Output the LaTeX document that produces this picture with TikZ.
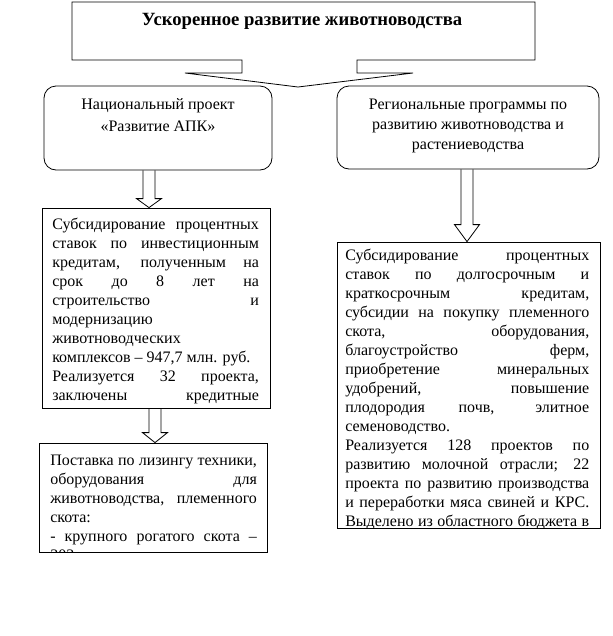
\documentclass[tikz,border=0pt]{standalone}
\usepackage{fontspec}
\setmainfont{Liberation Serif}
\usetikzlibrary{calc,fit}

\tikzset{
  box/.style={draw, inner sep=0pt, line width=0.6pt},
  rbox/.style={box, rounded corners=9pt},
  head/.style={inner sep=0pt, align=center, font=\fontsize{12}{15}\selectfont},
  txt/.style={inner sep=0pt, anchor=north west, align=justify,
    font=\fontsize{12}{14.25}\selectfont,
    execute at begin node={\parindent=0pt\tolerance=10000\hyphenpenalty=10000}},
  blockarr/.style={line width=0.6pt}
}

% широкая стрелка: верхний узел, нижний узел, x, длина головки
\newcommand{\blockarrow}[4]{%
  \coordinate (ba) at (#3,0);
  \draw[blockarr] ($(ba |- #1.south)+(-6,0)$) -- ($(ba |- #2.north)+(-6,-#4)$)
    -- ($(ba |- #2.north)+(-12.5,-#4)$) -- (ba |- #2.north)
    -- ($(ba |- #2.north)+(12.5,-#4)$) -- ($(ba |- #2.north)+(6,-#4)$)
    -- ($(ba |- #1.south)+(6,0)$);
}

\begin{document}
\begin{tikzpicture}[x=0.75pt,y=-0.75pt]
  \useasboundingbox (0,0) rectangle (612,636);

  % Заголовок с выноской
  \draw[line width=0.6pt] (72,2) -- (535,2) -- (535,60) -- (357,60) -- (357,73) -- (413,73)
    -- (298,87) -- (185,73) -- (242,73) -- (242,60) -- (72,60) -- cycle;
  \node[inner sep=0pt, font=\fontsize{14}{16}\bfseries] (title) at (302,21) {Ускоренное развитие животноводства};

  % Проекты
  \node[rbox, fit={(44,86) (272,170)}] (nat) {};
  \node[head, font=\fontsize{12}{16.5}\selectfont] (natT) at (158,115) {Национальный проект\\«Развитие АПК»};
  \node[rbox, fit={(337,86) (599,169)}] (reg) {};
  \node[head] (regT) at (468,126) {Региональные программы по\\развитию животноводства и\\растениеводства};

  % Левая колонка
  \node[box, fit={(42,208) (270,408)}] (sub) {};
  \begin{scope}
    \clip (sub.north west) rectangle (sub.south east);
    \node[txt, text width=155pt] (subT) at (52,218) {Субсидирование процентных \linebreak
      ставок по инвестиционным \linebreak кредитам, полученным на \linebreak
      срок до 8 лет на \linebreak строительство и \linebreak модернизацию \linebreak
      животноводческих \linebreak комплексов – 947,7 млн. руб.\par
      Реализуется 32 проекта, \linebreak заключены кредитные \linebreak \mbox{}\hfill 98};
  \end{scope}

  \node[box, fit={(39,443) (267,552)}] (lis) {};
  \begin{scope}
    \clip (lis.north west) rectangle (lis.south east);
    \node[txt, text width=155pt] (lisT) at (50,455) {Поставка по лизингу техники, \linebreak
      оборудования для \linebreak животноводства, племенного \linebreak скота:\par
      - крупного рогатого скота – \linebreak 303};
  \end{scope}

  % Правая колонка
  \node[box, fit={(337,242) (600,528)}] (sub2) {};
  \begin{scope}
    \clip (sub2.north west) rectangle (sub2.south east);
    \node[txt, text width=183pt] (sub2T) at (345,249) {Субсидирование процентных \linebreak
      ставок по долгосрочным и \linebreak краткосрочным кредитам, \linebreak
      субсидии на покупку племенного \linebreak скота, оборудования, \linebreak
      благоустройство ферм, \linebreak приобретение минеральных \linebreak
      удобрений, повышение \linebreak плодородия почв, элитное \linebreak
      семеноводство.\par
      Реализуется 128 проектов по \linebreak развитию молочной отрасли; 22 \linebreak
      проекта по развитию производства \linebreak и переработки мяса свиней и КРС. \linebreak
      Выделено из областного бюджета в \linebreak};
  \end{scope}

  % Стрелки
  \blockarrow{nat}{sub}{149}{9}
  \blockarrow{reg}{sub2}{467}{17}
  \blockarrow{sub}{lis}{155}{10}
\end{tikzpicture}
\end{document}
